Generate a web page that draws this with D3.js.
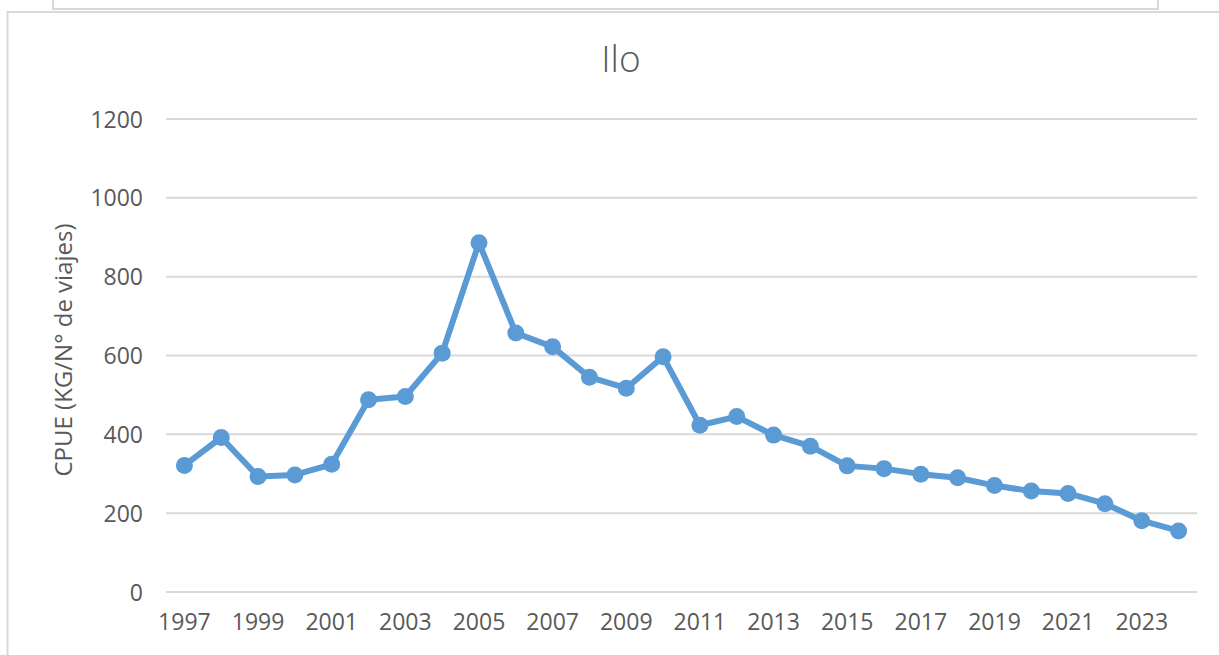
<!DOCTYPE html>
<html><head><meta charset="utf-8">
<script src="https://cdn.jsdelivr.net/npm/d3@7"></script>
<style>
html,body{margin:0;padding:0;background:#fff;}
svg{display:block;}
</style></head>
<body>
<svg id="c" width="1219" height="655"></svg>
<script>
const years = [1997,1998,1999,2000,2001,2002,2003,2004,2005,2006,2007,2008,2009,2010,2011,2012,2013,2014,2015,2016,2017,2018,2019,2020,2021,2022,2023,2024];
const cpue = [321,392,293,297,324,488,496,606,886,657,622,545,517,597,423,445,398,370,320,313,299,290,270,256,250,224,181,155];
const yTicks = [0,200,400,600,800,1000,1200];
const xLabels = [1997,1999,2001,2003,2005,2007,2009,2011,2013,2015,2017,2019,2021,2023];
const title = "Ilo";
const yTitle = "CPUE (KG/N° de viajes)";

const svg = d3.select("#c");
const font = "'Open Sans', 'Noto Sans', sans-serif";
const grey = "#595959";

// frames
svg.append("path").attr("d","M53,0 V9 H1158 V0").attr("fill","none").attr("stroke","#d9d9d9").attr("stroke-width",2);
svg.append("path").attr("d","M7.5,660 V12 H1225").attr("fill","none").attr("stroke","#d9d9d9").attr("stroke-width",2);

const x = d3.scaleBand().domain(years).range([166,1197]).padding(0);
const y = d3.scaleLinear().domain([0,1200]).range([592,119]);

// gridlines
svg.append("g").selectAll("line").data(yTicks).join("line")
  .attr("x1",166).attr("x2",1197)
  .attr("y1",d=>y(d)).attr("y2",d=>y(d))
  .attr("stroke","#d9d9d9").attr("stroke-width",2);

// y axis labels
const yAxis = d3.axisLeft(y).tickValues(yTicks).tickFormat(d3.format("d")).tickSize(0).tickPadding(0);
const gy = svg.append("g").attr("transform","translate(143,0)").call(yAxis);
gy.select(".domain").remove();
gy.selectAll("text").attr("fill",grey).style("font-family",font).style("font-size","23px").attr("dy","0.35em");

// x axis labels
const xAxis = d3.axisBottom(x).tickValues(xLabels).tickFormat(d3.format("d")).tickSize(0).tickPadding(0);
const gx = svg.append("g").attr("transform","translate(0,611)").call(xAxis);
gx.select(".domain").remove();
gx.selectAll("text").attr("fill",grey).style("font-family",font).style("font-size","23px").attr("dy","0.82em");

// line
const cx = d => x(d) + x.bandwidth()/2;
const line = d3.line().x((d,i)=>cx(years[i])).y(d=>y(d));
svg.append("path").datum(cpue).attr("d",line).attr("fill","none")
  .attr("stroke","#5b9bd5").attr("stroke-width",6).attr("stroke-linejoin","round");
svg.append("g").selectAll("circle").data(cpue).join("circle")
  .attr("cx",(d,i)=>cx(years[i])).attr("cy",d=>y(d)).attr("r",8.5).attr("fill","#5b9bd5");

// title
svg.append("text").attr("x",621).attr("y",72).attr("text-anchor","middle")
  .attr("fill",grey).style("font-family",font).style("font-weight",300).style("font-size","37px").text(title);

// y title
svg.append("text").attr("transform","translate(72,350) rotate(-90)").attr("text-anchor","middle")
  .attr("fill",grey).style("font-family",font).style("font-size","24px").text(yTitle);
</script>
</body></html>
